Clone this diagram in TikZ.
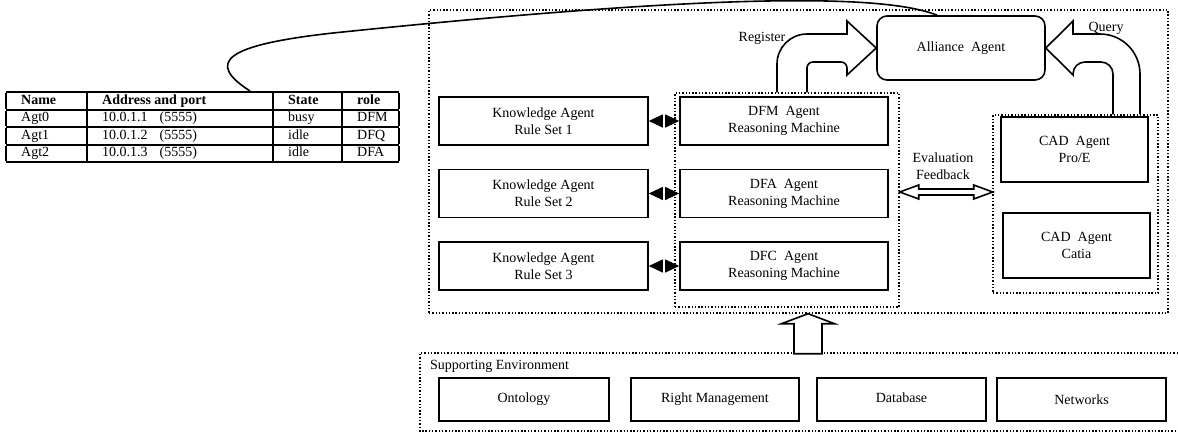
\documentclass[tikz,border=0pt]{standalone}
\usepackage{fontspec}
\setmainfont{Liberation Serif}
\usetikzlibrary{arrows.meta,calc}

\begin{document}
\begin{tikzpicture}[x=1pt,y=1pt]
	\tikzstyle{every node}+=[inner sep=0pt, font=\fontsize{14}{17}\selectfont]
	\tikzstyle{box}=[draw, line width=1.6pt, align=center]
	\tikzstyle{dotbox}=[draw, line width=1.4pt, dash pattern=on 1.4pt off 1.9pt]
	\tikzstyle{blockarrow}=[draw, line width=1.6pt, line join=miter]
	\tikzstyle{blockfill}=[blockarrow, fill=white]
	\tikzstyle{kdarrow}=[white, line width=1pt, {Triangle[black,length=14pt,width=13pt]}-{Triangle[black,length=14pt,width=13pt]}]
	\useasboundingbox (0,0) rectangle (1178,-432);
	\node[anchor=north west, font=\fontsize{14}{15.5}\selectfont] (agents) at (6,-91) {%
		\setlength{\arrayrulewidth}{2pt}\setlength{\tabcolsep}{15pt}%
		\begin{tabular}{|p{51pt}|p{156pt}|p{39pt}|p{27pt}|}\hline
			\textbf{Name} & \textbf{Address and port} & \textbf{State} & \textbf{role}\\\hline
			Agt0 & 10.0.1.1\hspace{12pt}(5555) & busy & DFM\\\hline
			Agt1 & 10.0.1.2\hspace{12pt}(5555) & idle & DFQ\\\hline
			Agt2 & 10.0.1.3\hspace{12pt}(5555) & idle & DFA\\\hline
		\end{tabular}};
	\node[dotbox, minimum width=739, minimum height=303] (system) at (798.5,-161.5) {};
	\node[dotbox, minimum width=224, minimum height=214] (reason) at (787,-200) {};
	\node[dotbox, minimum width=165, minimum height=178] (cad) at (1075.5,-204) {};
	\node[box, minimum width=209, minimum height=48] (ka1) at (543.5,-121) {Knowledge Agent\\Rule Set 1};
	\node[box, minimum width=209, minimum height=48] (ka2) at (543.5,-193.5) {Knowledge Agent\\Rule Set 2};
	\node[box, minimum width=209, minimum height=48] (ka3) at (543.5,-266) {Knowledge Agent\\Rule Set 3};
	\node[box, minimum width=208, minimum height=48] (dfm) at (784,-121) {DFM\ \ Agent\\Reasoning Machine};
	\node[box, minimum width=208, minimum height=48] (dfa) at (784,-193.5) {DFA\ \ Agent\\Reasoning Machine};
	\node[box, minimum width=208, minimum height=48] (dfc) at (784,-266) {DFC\ \ Agent\\Reasoning Machine};
	\node[box, minimum width=147, minimum height=65] (proe) at (1074.5,-149.5) {CAD\ \ Agent\\Pro/E};
	\node[box, minimum width=147, minimum height=65] (catia) at (1076.5,-245.5) {CAD\ \ Agent\\Catia};
	\node[box, rounded corners=10pt, minimum width=168, minimum height=64] (alliance) at (961,-48) {Alliance\ \ Agent};
	\node (register) at (762,-38) {Register};
	\node (query) at (1106,-28) {Query};
	\node[align=center] (evalfb) at (943,-166.5) {Evaluation\\Feedback};
	\draw[dotbox] (1178,-353) -- (420,-353) -- (420,-431) -- (1178,-431);
	\node[anchor=west] (supportlabel) at (430,-366) {Supporting Environment};
	\node[box, minimum width=170, minimum height=43] (ontology) at (524,-399.5) {\raisebox{2pt}{Ontology}};
	\node[box, minimum width=168, minimum height=43] (rights) at (715,-399.5) {\raisebox{-2pt}{Right Management}};
	\node[box, minimum width=169, minimum height=43] (database) at (901.5,-399.5) {\raisebox{3pt}{Database}};
	\node[box, minimum width=169, minimum height=43] (networks) at (1081.5,-399.5) {Networks};
	\draw[kdarrow] (ka1.east) -- (dfm.west);
	\draw[kdarrow] (ka2.east) -- (dfa.west);
	\draw[kdarrow] (ka3.east) -- (dfc.west);
	\draw[line width=1.6pt] (250,0 |- agents.north) .. controls (205,-62) and (225,-45) .. (333,-33) .. controls (633,-2) and (870,12) .. (937,0 |- alliance.north);
	\draw[blockarrow] (807,0 |- reason.north) [rounded corners=6pt] -- (807,-62) -- (847,-62) [sharp corners] -- (847,-75) -- (alliance.west) -- (847,-21) -- (847,-34) [rounded corners=30pt] -- (777,-34) -- (777,0 |- reason.north);
	\draw[blockarrow] (1113,0 |- cad.north) [rounded corners=12pt] -- (1113,-62) -- (1073,-62) [sharp corners] -- (1073,-75) -- (alliance.east) -- (1073,-21) -- (1073,-34) [rounded corners=40pt] -- (1140,-34) -- (1140,0 |- cad.north);
	\draw[blockfill] ($(reason.east)+(0,8)$) -- ++(19,7) -- ++(0,-4) -- ++(55,0) -- ++(0,4) -- ++(19,-7) -- ++(-19,-7) -- ++(0,4) -- ++(-55,0) -- ++(0,-4) -- cycle;
	\draw[blockfill] (808,0 |- system.south) -- ++(26.5,-10) -- ++(-12.5,0) -- ++(0,-30) -- ++(-28,0) -- ++(0,30) -- ++(-12.5,0) -- cycle;
\end{tikzpicture}
\end{document}
